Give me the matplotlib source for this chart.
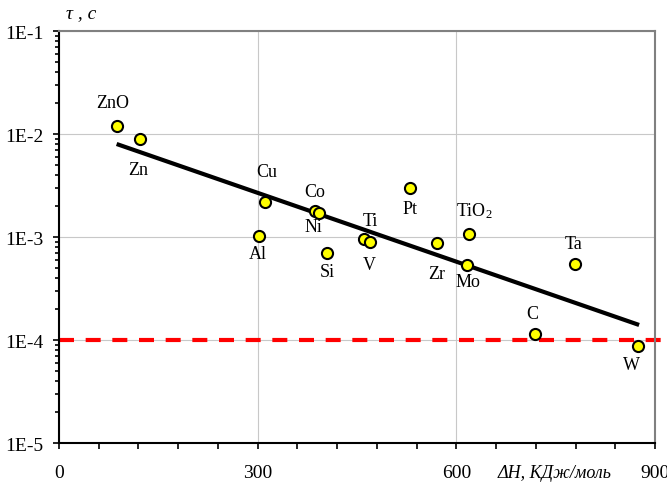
import numpy as np
import matplotlib
matplotlib.use('Agg')
import matplotlib.pyplot as plt
from matplotlib.ticker import FixedLocator, FuncFormatter, LogLocator, NullFormatter

# enthalpy (kJ/mol) vs characteristic time (s)
names = ['ZnO', 'Zn', 'Cu', 'Al', 'Co', 'Ni', 'Si', 'Ti', 'V', 'Pt', 'Zr',
         'TiO$_2$', 'Mo', 'Ta', 'C', 'W']
dH = [88, 122, 311, 302, 387, 392, 405, 461, 470, 530, 571, 619, 616, 779, 719, 875]
tau = [0.012, 0.0089, 0.0022, 0.00102, 0.00177, 0.00172, 0.0007, 0.00095,
       0.00089, 0.0030, 0.00087, 0.00107, 0.00054, 0.00055, 0.000115, 0.000087]

# label shift from each point, pixels
lab_dx = [-5, -2, 2, -1, -1, -5, 0, 6, -1, 0, 0, 5, 1, -1, -3, -7]
lab_dy = [23, -30, 30, -17, 20, -14, -19, 19, -22, -21, -30, 24, -17, 20, 20, -18]

# exponential trend line end points
trend_x = [87, 876]
trend_y = [0.0080, 0.00014]

limit_x = [0, 910]
limit_y = [1e-4, 1e-4]

plt.rcParams['font.family'] = ['Liberation Serif', 'DejaVu Serif']
plt.rcParams['mathtext.fontset'] = 'custom'
plt.rcParams['mathtext.rm'] = 'Liberation Serif'
plt.rcParams['mathtext.it'] = 'Liberation Serif:italic'

fig = plt.figure(figsize=(6.67, 4.85), dpi=100)
ax = fig.add_axes([0.0885, 0.0845, 0.8935, 0.8495])

ax.set_yscale('log')
ax.set_xlim(0, 900)
ax.set_ylim(1e-5, 1e-1)

ax.plot(limit_x, limit_y, color='#ff0000', lw=3, dashes=(3.6, 2.8), clip_on=False, zorder=2)
ax.plot(trend_x, trend_y, color='black', lw=3, solid_capstyle='butt', zorder=3)
ax.plot(dH, tau, 'o', ms=8, mfc='#ffff00', mec='black', mew=1.5, zorder=4)

for i in range(len(names)):
    ax.annotate(names[i], (dH[i], tau[i]), xytext=(lab_dx[i], lab_dy[i]),
                textcoords='offset pixels', ha='center', va='center', fontsize=13)

ax.xaxis.set_major_locator(FixedLocator([0, 300, 600, 900]))
ax.xaxis.set_minor_locator(FixedLocator(np.arange(0, 901, 60)))
ax.yaxis.set_major_locator(LogLocator(base=10, numticks=10))
ax.yaxis.set_minor_locator(LogLocator(base=10, subs=np.arange(2, 10), numticks=10))
ax.yaxis.set_minor_formatter(NullFormatter())
ax.yaxis.set_major_formatter(FuncFormatter(lambda v, p: '1E%d' % round(np.log10(v))))

ax.grid(True, which='major', color='#c8c8c8', lw=0.8)
ax.tick_params(axis='both', which='both', direction='out', labelsize=14, color='black', width=1.2)
ax.tick_params(axis='x', which='major', length=4, pad=11)
ax.tick_params(axis='x', which='minor', length=4)
ax.tick_params(axis='y', which='major', length=4, pad=7)
ax.tick_params(axis='y', which='minor', length=3)

for s in ['left', 'bottom']:
    ax.spines[s].set_color('black')
    ax.spines[s].set_linewidth(1.5)
for s in ['top', 'right']:
    ax.spines[s].set_color('#808080')
    ax.spines[s].set_linewidth(1.5)

fig.text(0.099, 0.971, 'τ , c', fontsize=14, style='italic', va='center')
fig.text(0.832, 0.023, 'ΔH, КДж/моль', fontsize=13, style='italic', ha='center', va='center')

fig.savefig('out.png', dpi=100)
